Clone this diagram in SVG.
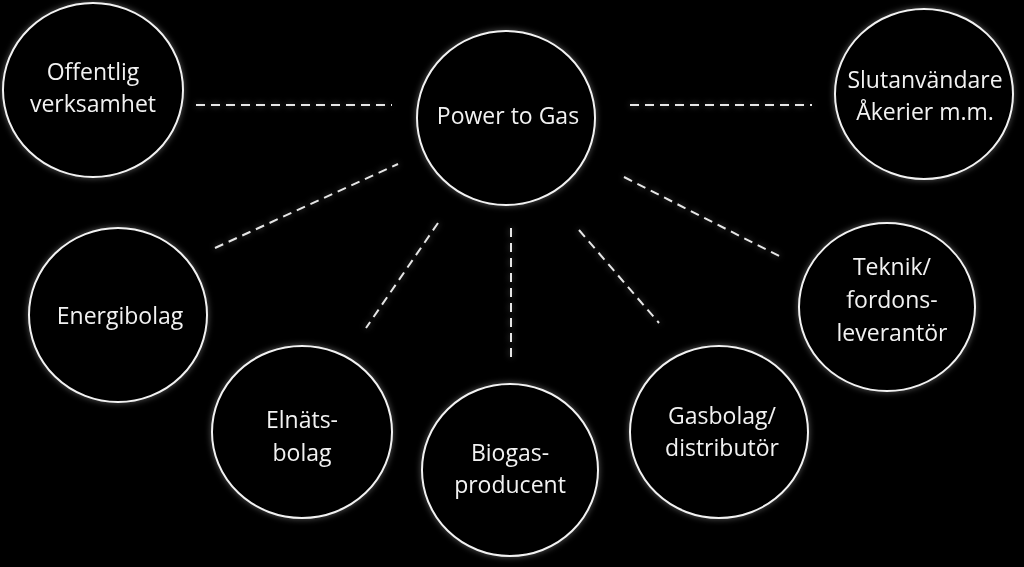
<svg xmlns="http://www.w3.org/2000/svg" width="1024" height="567" viewBox="0 0 1024 567">
<defs>
<filter id="glow" x="-20%" y="-20%" width="140%" height="140%">
<feGaussianBlur in="SourceAlpha" stdDeviation="3" result="b"/>
<feFlood flood-color="#ffffff" flood-opacity="0.35"/>
<feComposite in2="b" operator="in" result="g"/>
<feMerge><feMergeNode in="g"/><feMergeNode in="SourceGraphic"/></feMerge>
</filter>
</defs>
<style>
.node ellipse{fill:#000;stroke:#f2f2f2;stroke-width:2;}
.node text{fill:#f2f2f2;font-family:"Open Sans","Liberation Sans",sans-serif;font-size:23px;text-anchor:middle;}
.conn line{stroke:#e6e6e6;stroke-width:2;stroke-dasharray:9 6;fill:none;}
</style>
<rect x="0" y="0" width="1024" height="567" fill="#000"/>
<g id="connectors" class="conn" filter="url(#glow)">
<line x1="196" y1="105" x2="392" y2="105"/>
<line x1="630" y1="105" x2="812" y2="105"/>
<line x1="215" y1="248" x2="398" y2="164"/>
<line x1="438" y1="223" x2="366" y2="328"/>
<line x1="511" y1="228" x2="511" y2="360"/>
<line x1="579" y1="230" x2="659" y2="323"/>
<line x1="624" y1="177" x2="783" y2="258"/>
</g>
<g id="offentlig" class="node" filter="url(#glow)">
<ellipse cx="93" cy="90" rx="90" ry="87"/>
<text x="93" y="80">Offentlig</text>
<text x="93" y="112">verksamhet</text>
</g>
<g id="powertogas" class="node" filter="url(#glow)">
<ellipse cx="506" cy="118" rx="89" ry="87"/>
<text x="508" y="124">Power to Gas</text>
</g>
<g id="slutanvandare" class="node" filter="url(#glow)">
<ellipse cx="924" cy="94" rx="89" ry="85"/>
<text x="925" y="88">Slutanvändare</text>
<text x="925" y="120">Åkerier m.m.</text>
</g>
<g id="energibolag" class="node" filter="url(#glow)">
<ellipse cx="118" cy="315" rx="89" ry="87"/>
<text x="120" y="324">Energibolag</text>
</g>
<g id="elnatsbolag" class="node" filter="url(#glow)">
<ellipse cx="302" cy="432" rx="90" ry="86"/>
<text x="302" y="428">Elnäts-</text>
<text x="302" y="461">bolag</text>
</g>
<g id="biogasproducent" class="node" filter="url(#glow)">
<ellipse cx="510" cy="470" rx="88" ry="86"/>
<text x="510" y="461">Biogas-</text>
<text x="510" y="493">producent</text>
</g>
<g id="gasbolag" class="node" filter="url(#glow)">
<ellipse cx="719" cy="432" rx="89" ry="86"/>
<text x="722" y="424">Gasbolag/</text>
<text x="722" y="456">distributör</text>
</g>
<g id="teknik" class="node" filter="url(#glow)">
<ellipse cx="887" cy="307" rx="88" ry="84"/>
<text x="892" y="275">Teknik/</text>
<text x="892" y="308">fordons-</text>
<text x="892" y="341">leverantör</text>
</g>
</svg>
